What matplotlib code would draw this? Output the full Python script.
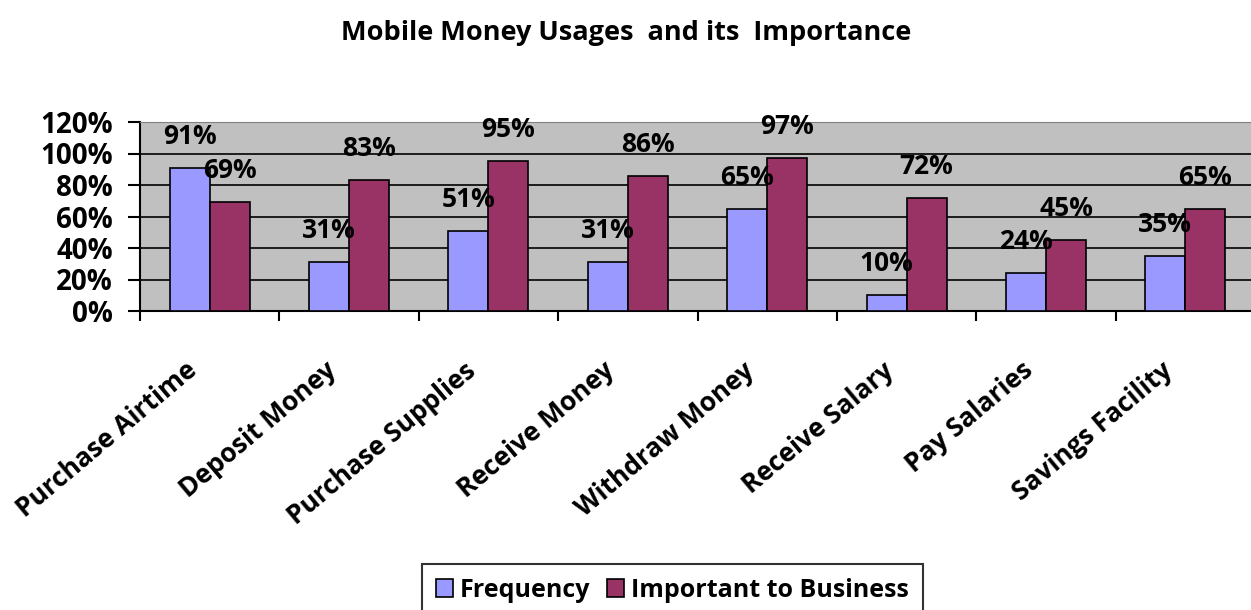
import matplotlib
matplotlib.use("Agg")
import matplotlib.pyplot as plt
import numpy as np
from matplotlib.ticker import PercentFormatter

plt.rcParams['font.family'] = ['Open Sans', 'DejaVu Sans']
plt.rcParams['font.weight'] = 'bold'

categories = ["Purchase Airtime", "Deposit Money", "Purchase Supplies", "Receive Money",
              "Withdraw Money", "Receive Salary", "Pay Salaries", "Savings Facility"]
frequency = [0.91, 0.31, 0.51, 0.31, 0.65, 0.10, 0.24, 0.35]
important = [0.69, 0.83, 0.95, 0.86, 0.97, 0.72, 0.45, 0.65]
series_names = ["Frequency", "Important to Business"]
colors = ["#9999FF", "#993366"]

fig = plt.figure(figsize=(12.51, 6.10), dpi=100)
ax = fig.add_axes([140 / 1251, 1 - 311 / 610, 1115 / 1251, 189 / 610])
ax.set_facecolor("#C0C0C0")

x = np.arange(len(categories))
w = 0.287
for vals, name, c, off in zip([frequency, important], series_names, colors, [-w / 2, w / 2]):
    ax.bar(x + off, vals, w, color=c, edgecolor="black", linewidth=1.2, label=name, zorder=3)
    # data labels sit above the bar, offset like the original
    for xi, v in zip(x + off, vals):
        ax.text(xi, v + 0.2, f"{round(v * 100)}%", ha="center", va="center",
                fontsize=19, fontweight="bold", zorder=4)

ax.set_xlim(-0.5, len(categories) - 0.5)
ax.set_ylim(0, 1.2)
ax.set_yticks(np.arange(0, 1.21, 0.2))
ax.yaxis.set_major_formatter(PercentFormatter(1.0, decimals=0))
ax.grid(axis="y", color="black", linewidth=1.2, zorder=1)
ax.set_xticks(np.arange(len(categories) + 1) - 0.5)
ax.set_xticklabels([])
# category labels, rotated, slightly left of each group centre
for xi, cat in zip(x, categories):
    ax.annotate(cat, xy=(xi, 0), xycoords=("data", "axes fraction"),
                xytext=(-18, -33), textcoords="offset points",
                rotation=40, ha="right", va="top", rotation_mode="anchor",
                fontsize=19, fontweight="bold", annotation_clip=False)
ax.tick_params(axis="x", length=7, width=1.5, direction="out")
ax.tick_params(axis="y", length=8.6, width=1.5, labelsize=20, pad=11)
for s in ["top", "right"]:
    ax.spines[s].set_color("#808080")
for s in ["left", "bottom"]:
    ax.spines[s].set_linewidth(1.5)

fig.text(626 / 1251, 1 - 33 / 610, "Mobile Money Usages  and its  Importance",
         ha="center", va="center", fontsize=19.5, fontweight="bold")

leg = fig.legend(loc="upper left", bbox_to_anchor=(422 / 1251, 1 - 564 / 610), ncol=2,
                 fontsize=18, frameon=True, fancybox=False, edgecolor="black",
                 handlelength=0.68, handleheight=0.68, handletextpad=0.28, columnspacing=0.68,
                 borderpad=0.55, borderaxespad=0)
leg.get_frame().set_linewidth(1.5)

fig.savefig("out.png", dpi=100)
